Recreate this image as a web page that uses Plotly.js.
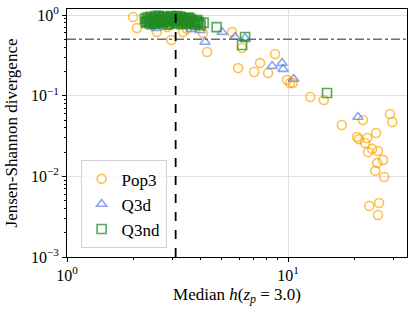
<!DOCTYPE html>
<html>
<head>
<meta charset="utf-8">
<script src="https://cdn.plot.ly/plotly-3.0.1.min.js"></script>
<style>html,body{margin:0;padding:0;background:#fff;}#chart{width:415px;height:312px;}</style>
</head>
<body>
<div id="chart"></div>
<script>
// Pop3 (orange circles)
const pop3X = [1.99,2.07,2.55,2.84,2.96,3.35,3.49,4.12,4.30,5.58,6.19,5.94,7.47,7.02,8.73,8.12,9.89,10.2,10.5,12.6,14.5,17.5,21.8,28.9,29.6,20.5,20.9,22.8,22.3,25.0,23.0,24.0,25.5,25.3,26.9,24.8,27.2,23.3,25.8,25.5,2.3,2.7,3.2];
const pop3Y = [0.945,0.69,0.615,0.71,0.49,0.615,0.67,0.60,0.348,0.615,0.39,0.22,0.254,0.197,0.329,0.191,0.157,0.144,0.144,0.0964,0.0885,0.0433,0.050,0.0593,0.0472,0.0308,0.029,0.0299,0.0259,0.0345,0.020,0.0219,0.0206,0.0147,0.016,0.0117,0.00983,0.0043,0.00468,0.00332,0.88,0.85,0.82];
// Q3d (blue triangles)
const q3dX = [2.53,3.64,4.0,4.21,5.03,5.75,6.39,8.47,9.39,9.49,10.6,20.7];
const q3dY = [0.69,0.67,0.65,0.463,0.615,0.534,0.519,0.233,0.254,0.214,0.161,0.0545];
// Q3nd (green squares)
const q3ndX = [2.25,2.27,2.30,2.33,2.36,2.38,2.41,2.44,2.47,2.50,2.52,2.55,2.58,2.61,2.63,2.66,2.69,2.72,2.74,2.77,2.80,2.83,2.86,2.89,2.92,2.95,2.98,3.01,3.04,3.07,3.10,3.13,3.16,3.20,3.23,3.27,3.30,3.34,3.38,3.42,3.46,3.50,3.54,3.58,3.63,3.68,3.73,3.78,3.84,3.90,3.96,4.02,2.40,2.85,3.25,2.60,2.95,3.55,2.48,3.15,2.35,2.56,2.78,3.05,3.36,3.66,3.88,2.29,2.70,3.18,3.45,3.75,4.15,4.75,6.39,6.19,15.0];
const q3ndY = [0.90,0.83,0.93,0.86,0.80,0.95,0.88,0.82,0.91,0.85,0.97,0.79,0.89,0.94,0.83,0.87,0.92,0.80,0.96,0.85,0.90,0.82,0.94,0.87,0.78,0.91,0.84,0.95,0.88,0.81,0.92,0.86,0.79,0.90,0.84,0.93,0.77,0.87,0.82,0.91,0.85,0.78,0.88,0.83,0.90,0.80,0.86,0.76,0.84,0.79,0.82,0.75,0.77,0.76,0.96,0.98,0.97,0.93,0.78,0.97,0.84,0.86,0.88,0.85,0.89,0.84,0.87,0.80,0.83,0.87,0.80,0.81,0.80,0.71,0.534,0.425,0.108];
// reference lines
const vlineX = 3.1;
const hlineY = 0.5;
const xRange = [1, 34.5];
const yRange = [0.001, 1.19];
// tick labels
const xTickVals = [1, 10];
const xTickText = ['10<sup>0</sup>', '10<sup>1</sup>'];
const yTickVals = [0.001, 0.01, 0.1, 1];
const yTickText = ['10<sup>−3</sup>', '10<sup>−2</sup>', '10<sup>−1</sup>', '10<sup>0</sup>'];
const xMinor = [2,3,4,5,6,7,8,9,20,30];
const yMinor = [0.002,0.003,0.004,0.005,0.006,0.007,0.008,0.009,0.02,0.03,0.04,0.05,0.06,0.07,0.08,0.09,0.2,0.3,0.4,0.5,0.6,0.7,0.8,0.9];

const mk = (sym, col, op) => ({symbol: sym, size: 9, color: col, opacity: op, line: {color: col, width: 1.6}});
const traces = [
  {x: [xRange[0], xRange[1]], y: [hlineY, hlineY], mode: 'lines', line: {color: '#6e6e6e', width: 1.5, dash: 'dashdot'}, showlegend: false, hoverinfo: 'skip'},
  {x: pop3X, y: pop3Y, mode: 'markers', name: 'Pop3', marker: mk('circle-open', '#FFA500', 0.7)},
  {x: q3dX, y: q3dY, mode: 'markers', name: 'Q3d', marker: mk('triangle-up-open', '#4169E1', 0.6)},
  {x: q3ndX, y: q3ndY, mode: 'markers', name: 'Q3nd', marker: mk('square-open', '#228B22', 0.75)},
  {x: [vlineX, vlineX], y: [yRange[0], yRange[1]], mode: 'lines', line: {color: '#000', width: 1.8, dash: 'dash'}, showlegend: false, hoverinfo: 'skip'}
];
const fam = 'Liberation Serif, DejaVu Serif, serif';
const axisCommon = {
  type: 'log', showline: true, mirror: true,
  linecolor: '#000', linewidth: 1, ticks: 'outside', ticklen: 4, tickcolor: '#000',
  showgrid: true, gridcolor: '#e0e0e0', gridwidth: 1, zeroline: false,
  tickfont: {family: fam, size: 16, color: '#000'}
};
const layout = {
  width: 415, height: 312,
  margin: {l: 67, r: 8, t: 9, b: 55},
  paper_bgcolor: '#fff', plot_bgcolor: '#fff',
  font: {family: fam, color: '#000'},
  showlegend: true,
  legend: {x: 0.04, y: 0.035, xanchor: 'left', yanchor: 'bottom', bgcolor: 'rgba(255,255,255,0.8)', bordercolor: '#d0d0d0', borderwidth: 1, font: {family: fam, size: 17, color: '#000'}},
  xaxis: Object.assign({}, axisCommon, {range: [Math.log10(xRange[0]), Math.log10(xRange[1])], tickmode: 'array', tickvals: xTickVals, ticktext: xTickText,
    minor: {tickmode: 'array', tickvals: xMinor, ticks: 'outside', ticklen: 2, tickcolor: '#000', showgrid: false},
    title: {text: 'Median <i>h</i>(<i>z<sub>p</sub></i> = 3.0)', font: {family: fam, size: 17, color: '#000'}, standoff: 4}}),
  yaxis: Object.assign({}, axisCommon, {range: [Math.log10(yRange[0]), Math.log10(yRange[1])], tickmode: 'array', tickvals: yTickVals, ticktext: yTickText,
    minor: {tickmode: 'array', tickvals: yMinor, ticks: 'outside', ticklen: 2, tickcolor: '#000', showgrid: false},
    title: {text: 'Jensen-Shannon divergence', font: {family: fam, size: 17, color: '#000'}, standoff: 8}})
};
Plotly.newPlot('chart', traces, layout, {staticPlot: true, displayModeBar: false});
</script>
</body>
</html>
